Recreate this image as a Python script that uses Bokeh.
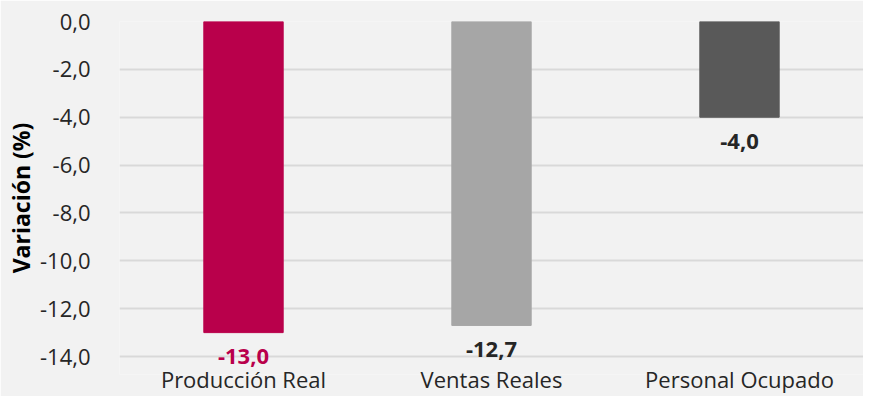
from bokeh.plotting import figure
from bokeh.models import (ColumnDataSource, LabelSet, Range1d, FactorRange,
                          SingleIntervalTicker, CustomJSTickFormatter)
from bokeh.core.properties import value
from bokeh.embed import file_html
from bokeh.resources import INLINE

categories = ["Producción Real", "Ventas Reales", "Personal Ocupado"]
values = [-13.0, -12.7, -4.0]
bar_colors = ["#B9004B", "#A6A6A6", "#595959"]
label_colors = ["#B9004B", "#262626", "#262626"]
y_min, y_max, y_step = -14, 0, 2
y_pad_bottom = 0.75  # extra room below the last gridline for value labels

FONT = "Open Sans"
BG = "#F2F2F2"

src = ColumnDataSource(dict(
    cat=categories,
    val=values,
    zero=[0] * len(values),
    color=bar_colors,
    lcolor=label_colors,
    txt=[f"{v:.1f}".replace(".", ",") for v in values],
))

p = figure(width=863, height=396, output_backend="svg", toolbar_location=None,
           x_range=FactorRange(*categories, range_padding=0),
           y_range=Range1d(y_min - y_pad_bottom, y_max),
           min_border_left=119, min_border_top=21, min_border_right=0,
           min_border_bottom=0)

p.background_fill_color = BG
p.border_fill_color = BG
p.outline_line_color = None

p.vbar(x="cat", top="zero", bottom="val", width=0.32, color="color", source=src)

labels = LabelSet(x="cat", y="val", text="txt", source=src,
                  text_align="center", text_baseline="middle", y_offset=-24,
                  text_color="lcolor", text_font=value(FONT),
                  text_font_size=value("22px"), text_font_style=value("bold"))
p.add_layout(labels)

# y axis
p.yaxis.ticker = SingleIntervalTicker(interval=y_step)
p.yaxis.formatter = CustomJSTickFormatter(code="return tick.toFixed(1).replace('.', ',');")
p.yaxis.axis_line_color = None
p.yaxis.major_tick_line_color = None
p.yaxis.minor_tick_line_color = None
p.yaxis.major_tick_out = 0
p.yaxis.major_tick_in = 0
p.yaxis.major_label_standoff = 25
p.yaxis.major_label_text_font = FONT
p.yaxis.major_label_text_font_size = "22px"
p.yaxis.major_label_text_color = "#262626"
p.yaxis.axis_label = "Variación (%)"
p.yaxis.axis_label_text_font = FONT
p.yaxis.axis_label_text_font_size = "23px"
p.yaxis.axis_label_text_font_style = "bold"
p.yaxis.axis_label_text_color = "#000000"
p.yaxis.axis_label_standoff = 0

# x axis
p.xaxis.axis_line_color = None
p.xaxis.major_tick_line_color = None
p.xaxis.minor_tick_line_color = None
p.xaxis.major_tick_out = 0
p.xaxis.major_tick_in = 0
p.xaxis.major_label_standoff = -11
p.xaxis.major_label_text_font = FONT
p.xaxis.major_label_text_font_size = "22px"
p.xaxis.major_label_text_color = "#262626"

p.xgrid.grid_line_color = None
p.ygrid.grid_line_color = "#D9D9D9"
p.ygrid.grid_line_width = 2

open("out.html", "w").write(file_html(p, INLINE))
